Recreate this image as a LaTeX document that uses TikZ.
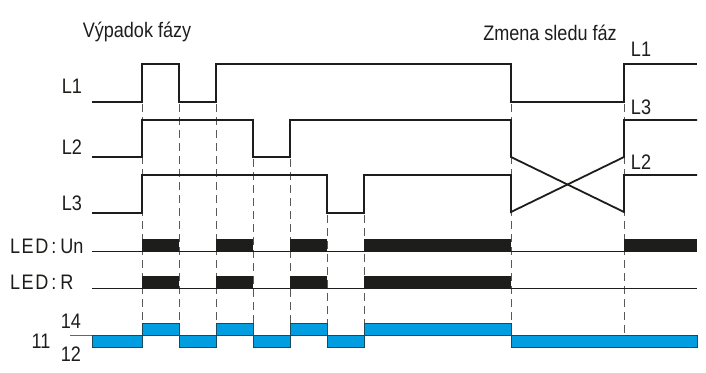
\documentclass[tikz,border=0pt]{standalone}
\usepackage{fontspec}
\setmainfont{Liberation Sans}[FakeStretch=0.86]
\usepackage{tikz}
\usetikzlibrary{positioning}
\usepackage{xcolor}
\definecolor{ink}{RGB}{29,29,27}
\definecolor{relayblue}{RGB}{0,158,224}
\definecolor{relayedge}{RGB}{28,72,92}

\begin{document}
\begin{tikzpicture}[x=1pt,y=-1pt,every node/.style={font=\fontsize{21}{24}\selectfont,inner sep=0pt,text=ink}]
\useasboundingbox (0,0) rectangle (706,372);
% dashed time marks
\foreach \x/\y in {142/104,179/104,216/104,253/159,290/159,327/215,364/215,511/104,624/104}{
  \draw[gray!70!black,line width=0.9pt,dash pattern=on 8pt off 5pt] (\x,\y) -- (\x,335);
}
% phase lines
\draw[ink,line width=1.8pt] (92,102) -- (142,102) -- (142,64) -- (179,64) -- (179,102) -- (216,102) -- (216,64) -- (511,64) -- (511,102) -- (624,102) -- (624,64) -- (697,64);
\draw[ink,line width=1.8pt] (92,157) -- (142,157) -- (142,120) -- (253,120) -- (253,157) -- (290,157) -- (290,120) -- (511,120) -- (511,157) -- (624,212) -- (624,175) -- (697,175);
\draw[ink,line width=1.8pt] (92,213) -- (142,213) -- (142,175) -- (327,175) -- (327,213) -- (364,213) -- (364,175) -- (511,175) -- (511,212) -- (624,157) -- (624,120) -- (697,120);
% LED rows
\draw[ink,line width=1pt] (92,251) -- (697,251);
\draw[ink,line width=1pt] (92,288) -- (697,288);
\foreach \a/\b in {142/179,216/253,290/327,364/511,624/697}{\fill[ink] (\a,239) rectangle (\b,251.5);}
\foreach \a/\b in {142/179,216/253,290/327,364/511}{\fill[ink] (\a,276) rectangle (\b,288.5);}
% relay contact
\draw[gray!80!black,line width=1pt] (70,335) -- (92,335);
\foreach \a/\b in {142/179,216/253,290/327,364/511}{\draw[relayedge,fill=relayblue,line width=1pt] (\a,323) rectangle (\b,335);}
\foreach \a/\b in {92/142,179/216,253/290,327/364,511/697}{\draw[relayedge,fill=relayblue,line width=1pt] (\a,335) rectangle (\b,347);}
% labels
\node (fail) at (137,32) {Výpadok fázy};
\node (swap) at (550,33) {Zmena sledu fáz};
\node (l1) at (72,86) {L1};
\node (l2) at (72,147) {L2};
\node (l3) at (72,203) {L3};
\node[anchor=west] (ledun) at (10,246) {L\kern1.5pt E\kern1.5pt D\kern3pt:\kern4pt Un};
\node[anchor=west] (ledr) at (10,282) {L\kern1.5pt E\kern1.5pt D\kern3pt:\kern4pt R};
\node (c11) at (41,341) {11};
\node (c14) at (71,321) {14};
\node (c12) at (71,354) {12};
\node (r1) at (641,49) {L1};
\node (r3) at (641,107) {L3};
\node (r2) at (641,162) {L2};
\end{tikzpicture}
\end{document}
